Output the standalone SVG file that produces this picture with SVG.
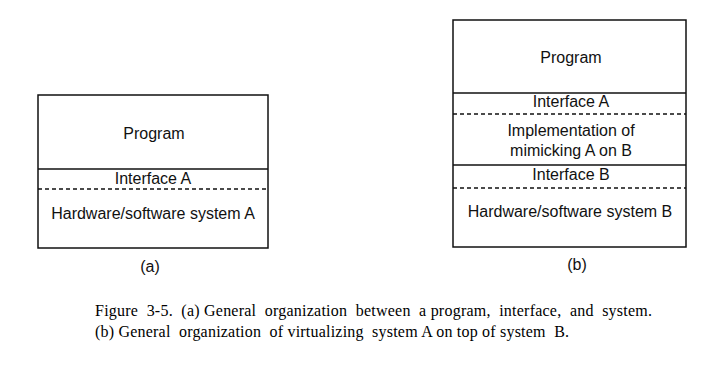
<svg xmlns="http://www.w3.org/2000/svg" width="719" height="365" viewBox="0 0 719 365">
  <style>
    .box { fill: #fff; stroke: #111; stroke-width: 1.5; }
    .solid { stroke: #111; stroke-width: 1.3; fill: none; }
    .dash { stroke: #111; stroke-width: 1.3; stroke-dasharray: 4 3; fill: none; }
    .lbl { font-family: "Liberation Sans", Arial, sans-serif; font-size: 16px; fill: #111; text-anchor: middle; }
    .cap { font-family: "Liberation Serif", "Times New Roman", serif; font-size: 16px; fill: #000; }
  </style>
  <rect width="719" height="365" fill="#fff"/>

  <!-- (a) program over system A -->
  <g id="stack-a">
    <rect class="box" x="38" y="95" width="230" height="153"/>
    <line class="solid" x1="38" y1="169" x2="268" y2="169"/>
    <line class="dash" x1="38" y1="189" x2="268" y2="189"/>
    <text class="lbl" x="154" y="139">Program</text>
    <text class="lbl" x="153" y="184">Interface A</text>
    <text class="lbl" x="153" y="219">Hardware/software system A</text>
    <text class="lbl" x="150" y="272">(a)</text>
  </g>

  <!-- (b) program over system A virtualized on system B -->
  <g id="stack-b">
    <rect class="box" x="453" y="20" width="233" height="227"/>
    <line class="solid" x1="453" y1="93" x2="686" y2="93"/>
    <line class="dash" x1="453" y1="114" x2="686" y2="114"/>
    <line class="solid" x1="453" y1="165" x2="686" y2="165"/>
    <line class="dash" x1="453" y1="188" x2="686" y2="188"/>
    <text class="lbl" x="571" y="63">Program</text>
    <text class="lbl" x="571" y="107">Interface A</text>
    <text class="lbl" x="571" y="136">Implementation of</text>
    <text class="lbl" x="571" y="156">mimicking A on B</text>
    <text class="lbl" x="571" y="180">Interface B</text>
    <text class="lbl" x="570" y="217">Hardware/software system B</text>
    <text class="lbl" x="577" y="270">(b)</text>
  </g>

  <!-- caption -->
  <g id="caption">
    <text class="cap" x="95" y="316" textLength="557" lengthAdjust="spacing" xml:space="preserve">Figure  3-5.  (a) General  organization  between  a program,  interface,  and  system.</text>
    <text class="cap" x="95" y="337" textLength="474" lengthAdjust="spacing" xml:space="preserve">(b) General  organization  of virtualizing  system A on top of system  B.</text>
  </g>
</svg>
